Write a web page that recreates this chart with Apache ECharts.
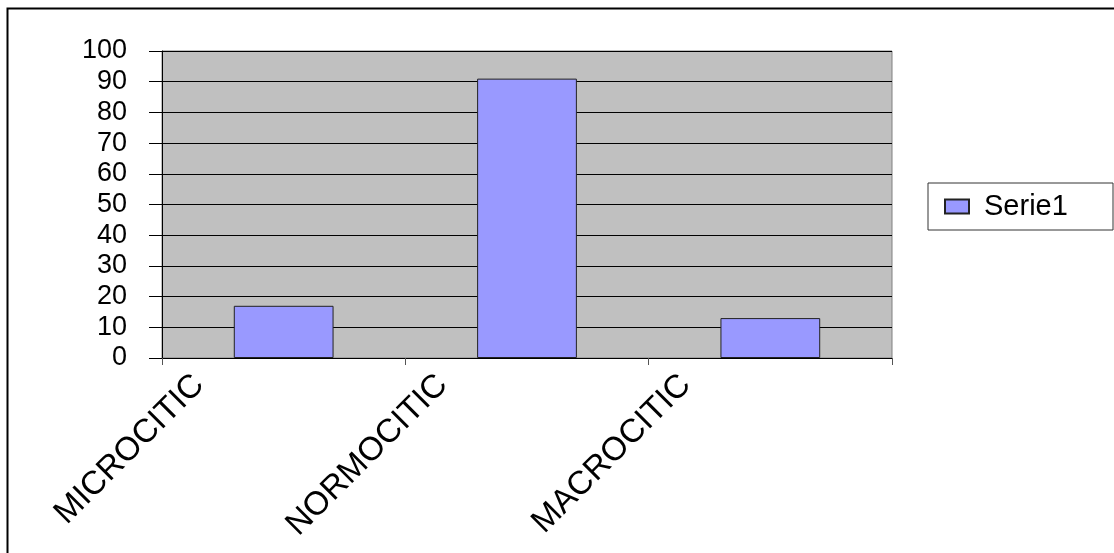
<!DOCTYPE html>
<html>
<head>
<meta charset="utf-8">
<script src="https://cdn.jsdelivr.net/npm/echarts@6/dist/echarts.min.js"></script>
<style>
    html, body { margin: 0; padding: 0; background: #fff; }
    #chart { width: 1114px; height: 553px; }
</style>
</head>
<body>
<div id="chart"></div>
<script>
// categorii si valori
const categories = ['MICROCITIC', 'NORMOCITIC', 'MACROCITIC'];
const serie1 = [17, 91, 13];
const yTicks = { min: 0, max: 100, step: 10 };

// etichetele stau pe marginile categoriilor, nu la mijloc
const labelSlots = categories.concat(['']);

let chart = echarts.init(document.getElementById('chart'));
let option = {
    backgroundColor: '#fff',
    animation: false,
    graphic: [
        {
            type: 'rect',
            shape: { x: 7.5, y: 8.5, width: 1200, height: 600 },
            style: { fill: 'none', stroke: '#000', lineWidth: 2 },
            silent: true
        }
    ],
    grid: [
        {
            left: 162, top: 51, right: 222, bottom: 195,
            show: true,
            backgroundColor: '#C0C0C0',
            borderColor: '#808080',
            borderWidth: 1
        },
        {
            left: 199, top: 51, right: 185, bottom: 195
        }
    ],
    legend: {
        left: 928,
        top: 183,
        orient: 'vertical',
        padding: [9, 15, 9, 16],
        borderColor: '#333',
        borderWidth: 1,
        itemWidth: 24,
        itemHeight: 14,
        icon: 'rect',
        textStyle: {
            fontFamily: 'Liberation Sans',
            fontSize: 29,
            color: '#000',
            lineHeight: 23,
            width: 114,
            padding: [0, 0, 0, 10]
        },
        data: ['Serie1']
    },
    xAxis: [
        {
            type: 'category',
            gridIndex: 0,
            data: categories,
            axisLine: { lineStyle: { color: '#000', width: 1 } },
            axisTick: { show: true, length: 7, lineStyle: { color: '#555' } },
            axisLabel: { show: false },
            splitLine: { show: false }
        },
        {
            type: 'category',
            gridIndex: 1,
            boundaryGap: false,
            data: labelSlots,
            axisLine: { show: false },
            axisTick: { show: false },
            splitLine: { show: false },
            axisLabel: {
                interval: 0,
                rotate: 45,
                margin: 22,
                fontFamily: 'Liberation Sans',
                fontSize: 33,
                color: '#000'
            }
        }
    ],
    yAxis: [
        {
            type: 'value',
            gridIndex: 0,
            min: yTicks.min,
            max: yTicks.max,
            interval: yTicks.step,
            axisLine: { show: true, lineStyle: { color: '#000', width: 1 } },
            axisTick: { show: true, length: 13, lineStyle: { color: '#000' } },
            axisLabel: {
                margin: 35,
                fontFamily: 'Liberation Sans',
                fontSize: 27,
                color: '#000'
            },
            splitLine: { show: true, lineStyle: { color: '#000', width: 1 } }
        },
        {
            type: 'value',
            gridIndex: 1,
            show: false,
            min: yTicks.min,
            max: yTicks.max
        }
    ],
    series: [
        {
            name: 'Serie1',
            type: 'bar',
            xAxisIndex: 0,
            yAxisIndex: 0,
            barWidth: '41%',
            data: serie1,
            itemStyle: {
                color: '#9999FF',
                borderColor: '#222',
                borderWidth: 1
            }
        }
    ]
};
chart.setOption(option);
</script>
</body>
</html>
